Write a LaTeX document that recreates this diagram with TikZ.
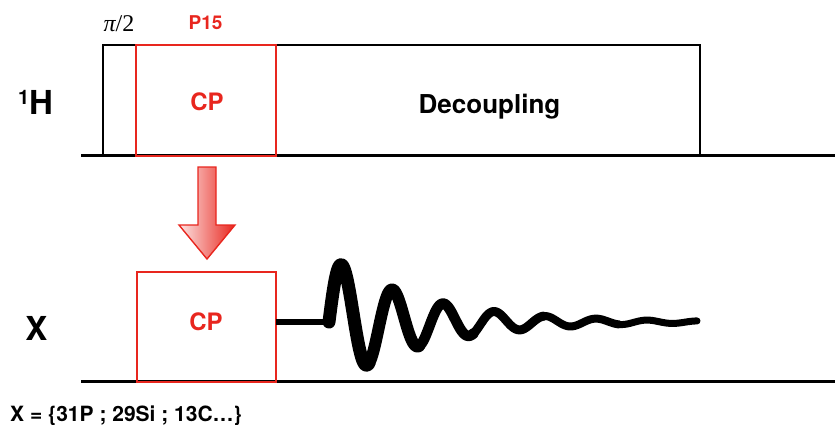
\documentclass[tikz,border=0pt]{standalone}
\usepackage{fontspec}
\setmainfont{TeX Gyre Heros}
\newfontfamily\timesfont{Liberation Serif}
\definecolor{cpred}{RGB}{232,38,30}
\begin{document}
\begin{tikzpicture}[x=1pt,y=-1pt,
  declare function={fy(\t)=322-68*exp(-(\t+3)/90)*sin(7.0588*\t);},
  pulse/.style={draw=black,line width=2pt,inner sep=0pt,outer sep=0pt,anchor=south west,minimum height=110pt},
  cpbox/.style={pulse,draw=cpred},
  lbl/.style={anchor=base,inner sep=0pt,outer sep=0pt},
  axisline/.style={line width=2.2pt,black},
  fid/.style={line cap=round,line join=round,black}]
\useasboundingbox (0,0) rectangle (835,425);
% channel lines
\coordinate (hs) at (81,155.5); \coordinate (he) at (835,155.5);
\coordinate (xs) at (81,381.5); \coordinate (xe) at (835,381.5);
\draw[axisline] (hs) -- (he);
\draw[axisline] (xs) -- (xe);
% pulses
\node[pulse,minimum width=33pt] (p90) at (103,155.5) {};
\node[pulse,minimum width=424pt] (dec) at (276,155.5) {};
\node[cpbox,minimum width=140pt] (hcp) at (136,155.5) {};
\node[cpbox,minimum width=139pt] (xcp) at (137,381.5) {};
% labels
\node[lbl] (hlab) at (35.5,114.3) {\fontsize{33}{33}\selectfont\bfseries\raisebox{9.5pt}{\fontsize{20}{20}\selectfont 1}H};
\node[lbl] (xlab) at (36.4,340) {\fontsize{33}{33}\selectfont\bfseries X};
\node[lbl] (declab) at (489.5,113.3) {\fontsize{26}{26}\selectfont\bfseries Decoupling};
\node[lbl,text=cpred] (hcplab) at (207,111) {\fontsize{24}{24}\selectfont\bfseries CP};
\node[lbl,text=cpred] (xcplab) at (206,330) {\fontsize{24}{24}\selectfont\bfseries CP};
\node[lbl,text=cpred] (p15) at (205.5,30) {\fontsize{19}{19}\selectfont\bfseries P15};
\node[lbl] (pilab) at (119,32) {\fontsize{24}{24}\selectfont\timesfont{\itshape π}/2};
\node[anchor=base west,inner sep=0pt] (xdef) at (10,421) {\fontsize{21}{21}\selectfont\bfseries X = \{31P ; 29Si ; 13C…\}};
% transfer arrow
\path[draw=cpred,line width=1.4pt,line join=miter,left color=cpred!12,right color=cpred]
  (198,167) -- (216,167) -- (216,225) -- (235,225) -- (207,259) -- (179,225) -- (198,225) -- cycle;
% FID
\coordinate (fid0) at (276,322);
\coordinate (fid1) at (329,322);
\draw[fid,line width=6.5pt,line cap=butt] (fid0) -- (fid1);
\foreach \a/\b/\w in {0/40/13,40/90/12,90/145/10.5,145/215/9,215/290/8,290/368/7}
  \draw[fid,line width=\w pt] plot[domain=\a:\b,samples=60,variable=\t] ({329+\t},{fy(\t)});
\end{tikzpicture}
\end{document}
